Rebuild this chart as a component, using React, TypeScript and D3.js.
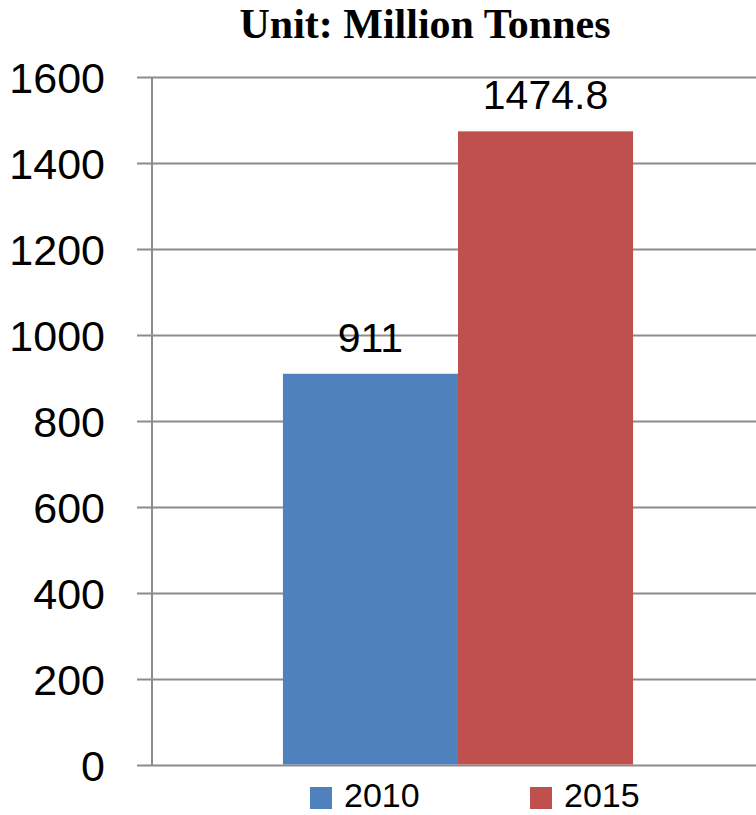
import React from "react";
import * as d3 from "d3";

const categories = ["2010", "2015"];
const values = [911, 1474.8];
const labels = ["911", "1474.8"];
const colors = ["#4F81BD", "#C0504D"];
const yTicks = [0, 200, 400, 600, 800, 1000, 1200, 1400, 1600];
const title = "Unit: Million Tonnes";

export default function App() {
  const W = 756, H = 815;
  const left = 152, right = 764, top = 77.5, bottom = 765.5;
  const y = d3.scaleLinear().domain([0, 1600]).range([bottom, top]);
  const group = d3.scaleBand().domain(["g"]).range([left, right]).paddingInner(0).paddingOuter(0.374);
  const x = d3.scaleBand().domain(categories).range([group("g")!, group("g")! + group.bandwidth()]);
  const font = "'Liberation Sans', Arial, sans-serif";
  return (
    <svg width={W} height={H} style={{ position: "absolute", left: 0, top: 0, background: "#fff" }}>
      <text x={425} y={38} textAnchor="middle" fontFamily="'Liberation Serif', 'Times New Roman', serif" fontWeight="bold" fontSize={42}>{title}</text>
      {yTicks.map((t) => (
        <g key={t}>
          <line x1={137} x2={W} y1={y(t)} y2={y(t)} stroke="#8C8C8C" strokeWidth={2} />
          <text x={105} y={y(t) + 15} textAnchor="end" fontFamily={font} fontSize={43} fill="#000">{t}</text>
        </g>
      ))}
      <line x1={left} x2={left} y1={top} y2={bottom} stroke="#8C8C8C" strokeWidth={2} />
      {categories.map((c, i) => (
        <g key={c}>
          <rect x={x(c)} y={y(values[i])} width={x.bandwidth()} height={bottom - 1 - y(values[i])} fill={colors[i]} />
          <text x={x(c)! + x.bandwidth() / 2} y={y(values[i]) - 22} textAnchor="middle" fontFamily={font} fontSize={41} fill="#000">{labels[i]}</text>
        </g>
      ))}
      {categories.map((c, i) => (
        <g key={"l" + c} transform={`translate(${310 + i * 220},787)`}>
          <rect x={0} y={0} width={22} height={22} fill={colors[i]} />
          <text x={34} y={20} fontFamily={font} fontSize={34} fill="#000">{c}</text>
        </g>
      ))}
    </svg>
  );
}
